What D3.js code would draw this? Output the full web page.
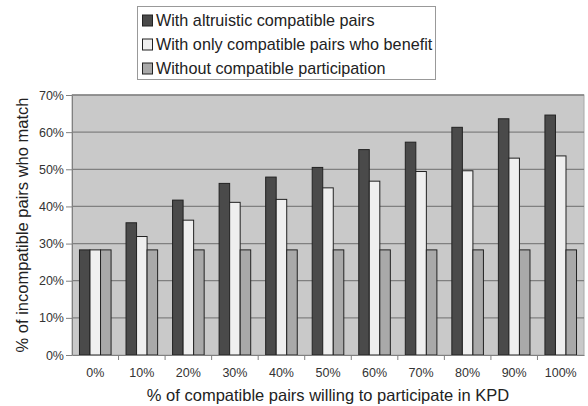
<!DOCTYPE html>
<html><head><meta charset="utf-8">
<script src="https://cdn.jsdelivr.net/npm/d3@7"></script>
<style>body{margin:0;background:#fff}svg{display:block;font-family:"Liberation Sans",Arial,sans-serif}</style>
</head><body><svg id="c" width="588" height="406"></svg>
<script>
const categories = ["0%","10%","20%","30%","40%","50%","60%","70%","80%","90%","100%"];
const seriesNames = ["With altruistic compatible pairs","With only compatible pairs who benefit","Without compatible participation"];
const altruistic = [28.3,35.6,41.7,46.2,47.9,50.5,55.3,57.3,61.3,63.6,64.6];
const onlyBenefit = [28.3,31.9,36.3,41.1,41.9,45.0,46.8,49.4,49.6,53.0,53.6];
const without = [28.3,28.3,28.3,28.3,28.3,28.3,28.3,28.3,28.3,28.3,28.3];
const yTicks = [0,10,20,30,40,50,60,70];
const colors = ["#4a4a4a","#efefef","#a9a9a9"];

const svg = d3.select("#c");
const m = {l:72, r:4, t:95, b:51};
const W = 588, H = 406;
const x = d3.scaleBand().domain(categories).range([m.l, W-m.r]).paddingInner(0).paddingOuter(0);
const xs = d3.scaleBand().domain([0,1,2]).range([0, x.bandwidth()]).paddingInner(0).paddingOuter(0.71);
const y = d3.scaleLinear().domain([0,70]).range([H-m.b, m.t]);

svg.append("rect").attr("x",m.l).attr("y",m.t).attr("width",W-m.r-m.l).attr("height",H-m.b-m.t)
  .attr("fill","#c9c9c9").attr("stroke","#a8a8a8").attr("stroke-width",1);

svg.append("g").selectAll("line").data(yTicks.slice(1)).join("line")
  .attr("x1",m.l).attr("x2",W-m.r).attr("y1",d=>y(d)).attr("y2",d=>y(d))
  .attr("stroke","#808080").attr("stroke-width",1.3);

const series = [altruistic, onlyBenefit, without];
const g = svg.append("g");
series.forEach((s,i)=>{
  g.selectAll(null).data(categories).join("rect")
    .attr("x",(c)=>x(c)+xs(i)).attr("y",(c,j)=>y(s[j]))
    .attr("width",xs.bandwidth()).attr("height",(c,j)=>y(0)-y(s[j]))
    .attr("fill",colors[i]).attr("stroke","#222").attr("stroke-width",1);
});

const yAxis = svg.append("g").attr("transform",`translate(${m.l},0)`)
  .call(d3.axisLeft(y).tickValues(yTicks).tickFormat(d=>d+"%").tickSize(6).tickSizeOuter(0));
yAxis.select(".domain").attr("stroke","#808080");
yAxis.selectAll(".tick line").attr("stroke","#808080");
yAxis.selectAll("text").attr("font-size",12.5).attr("fill","#333").attr("x",-8).style("font-family","Liberation Sans, Arial, sans-serif");

const xAxis = svg.append("g").attr("transform",`translate(0,${H-m.b})`)
  .call(d3.axisBottom(x).tickSize(0).tickSizeOuter(0));
xAxis.select(".domain").attr("stroke","#808080");
xAxis.selectAll("text").attr("font-size",12.5).attr("fill","#333").attr("dy","1.55em").style("font-family","Liberation Sans, Arial, sans-serif");
svg.append("g").selectAll("line").data(categories.slice(1)).join("line")
  .attr("x1",c=>x(c)).attr("x2",c=>x(c)).attr("y1",H-m.b).attr("y2",H-m.b+5).attr("stroke","#808080");

svg.append("text").attr("x",(m.l+W-m.r)/2).attr("y",401).attr("text-anchor","middle")
  .attr("font-size",16.5).attr("fill","#222").text("% of compatible pairs willing to participate in KPD");
svg.append("text").attr("transform",`translate(28,${(m.t+H-m.b)/2}) rotate(-90)`).attr("text-anchor","middle")
  .attr("font-size",16.5).attr("fill","#222").text("% of incompatible pairs who match");

const lg = svg.append("g");
lg.append("rect").attr("x",137.5).attr("y",6.5).attr("width",298).attr("height",73)
  .attr("fill","#fff").attr("stroke","#999");
seriesNames.forEach((n,i)=>{
  const cy = 20.5 + i*24;
  lg.append("rect").attr("x",142.5).attr("y",cy-5.5).attr("width",10).attr("height",11)
    .attr("fill",colors[i]).attr("stroke","#222");
  lg.append("text").attr("x",156).attr("y",cy).attr("dy","0.36em").attr("font-size",16.2).attr("fill","#222").text(n);
});
</script></body></html>
